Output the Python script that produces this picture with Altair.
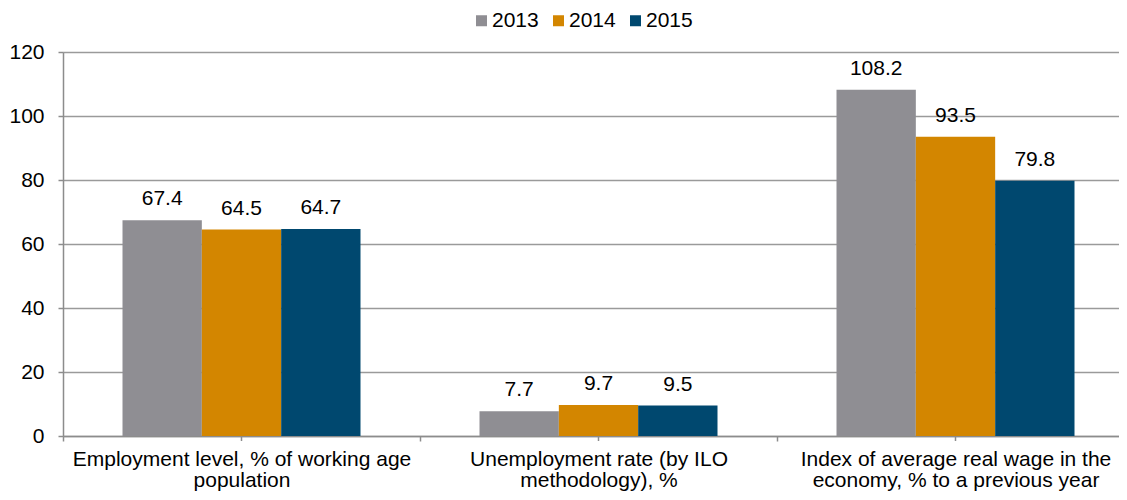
import altair as alt
import pandas as pd

categories = [
    "Employment level, % of working age population",
    "Unemployment rate (by ILO methodology), %",
    "Index of average real wage in the economy, % to a previous year",
]
label_lines = [
    ["Employment level, % of working age", "population"],
    ["Unemployment rate (by ILO", "methodology), %"],
    ["Index of average real wage in the", "economy, % to a previous year"],
]
years = ["2013", "2014", "2015"]
values_2013 = [67.4, 7.7, 108.2]
values_2014 = [64.5, 9.7, 93.5]
values_2015 = [64.7, 9.5, 79.8]
colors = ["#8F8E93", "#D38600", "#00486F"]
y_ticks = [0, 20, 40, 60, 80, 100, 120]

rows = []
for yr, vals in zip(years, [values_2013, values_2014, values_2015]):
    for c, v in zip(categories, vals):
        rows.append({"category": c, "year": yr, "value": v})
df = pd.DataFrame(rows)

expr = "datum.label"
for c, lines in reversed(list(zip(categories, label_lines))):
    arr = "[" + ",".join("'" + l + "'" for l in lines) + "]"
    expr = f"datum.label == '{c}' ? {arr} : ({expr})"

FONT = "Liberation Sans"
FS = 21
GRAY = "#8C8C8C"
PLOT_H = 384

x_scale = alt.Scale(domain=categories, range=[0, 1071], paddingInner=0, paddingOuter=0)
xo_scale = alt.Scale(domain=years, paddingInner=0, paddingOuter=0.75)
y_scale = alt.Scale(domain=[0, 120], nice=False)

x_enc = alt.X(
    "category:N",
    scale=x_scale,
    sort=categories,
    axis=alt.Axis(
        title=None,
        labelExpr=expr,
        labelAngle=0,
        labelFontSize=FS,
        labelFont=FONT,
        labelColor="#000000",
        labelLineHeight=21,
        labelPadding=7,
        tickBand="extent",
        tickSize=5,
        tickColor=GRAY,
        tickWidth=1.5,
        domainColor=GRAY,
        domainWidth=1.5,
        labelLimit=500,
        grid=False,
    ),
)
y_enc = alt.Y(
    "value:Q",
    scale=y_scale,
    axis=alt.Axis(
        title=None,
        values=y_ticks,
        labelFontSize=FS,
        labelFont=FONT,
        labelColor="#000000",
        labelPadding=14,
        tickSize=5,
        tickColor=GRAY,
        tickWidth=1.5,
        domainColor=GRAY,
        domainWidth=1.5,
        gridColor="#9A9A9A",
        gridWidth=1.5,
    ),
)

bars = alt.Chart(df).mark_bar().encode(
    x=x_enc,
    xOffset=alt.XOffset("year:N", scale=xo_scale, sort=years),
    y=y_enc,
    color=alt.Color(
        "year:N",
        scale=alt.Scale(domain=years, range=colors),
        legend=alt.Legend(
            title=None,
            orient="none",
            legendX=408,
            legendY=-42,
            direction="horizontal",
            symbolType="square",
            symbolSize=121,
            symbolStrokeWidth=0,
            symbolOpacity=1,
            labelFontSize=FS,
            labelFont=FONT,
            labelColor="#000000",
            labelOffset=0,
            columnPadding=9,
            padding=0,
        ),
    ),
)

texts = alt.Chart(df).mark_text(
    baseline="alphabetic", dy=-15, fontSize=FS, font=FONT, color="#000000"
).encode(
    x=alt.X("category:N", scale=x_scale, sort=categories),
    xOffset=alt.XOffset("year:N", scale=xo_scale, sort=years),
    y=alt.Y("value:Q", scale=y_scale),
    text=alt.Text("value:Q", format=".1f"),
)

center_ticks = alt.Chart(pd.DataFrame({"category": categories})).mark_rule(
    color=GRAY, strokeWidth=1.5
).encode(
    x=alt.X("category:N", scale=x_scale, sort=categories),
    y=alt.value(PLOT_H),
    y2=alt.value(PLOT_H + 5),
)

chart = (
    alt.layer(bars, texts, center_ticks)
    .properties(
        width=1056,
        height=PLOT_H,
        autosize=alt.AutoSizeParams(type="none"),
        padding={"left": 55, "top": 44, "right": 0, "bottom": 56},
    )
    .configure_view(stroke=None)
    .configure(font=FONT)
)

chart.save("out.html", embed_options={"renderer": "svg", "actions": False})
